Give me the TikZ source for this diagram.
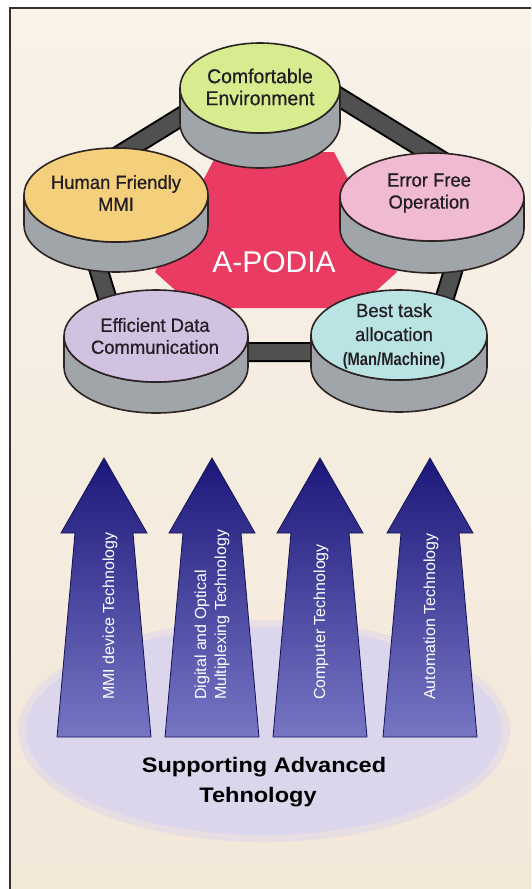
\documentclass[tikz,border=0pt]{standalone}
\usepackage{fontspec}
\setmainfont{Liberation Sans}
\newfontfamily\narrowfont[FakeStretch=0.82]{Liberation Sans}
\newfontfamily\widefont[FakeStretch=1.12]{Liberation Sans}
\newfontfamily\heavyfont[FakeBold=0.7,FakeStretch=0.97]{Liberation Sans}
\usetikzlibrary{calc}
\definecolor{bgtop}{RGB}{248,242,233}
\definecolor{bgbot}{RGB}{243,231,216}
\definecolor{framec}{RGB}{55,50,45}
\definecolor{cylgray}{RGB}{160,165,170}
\definecolor{cyledge}{RGB}{45,35,35}
\definecolor{cgreen}{RGB}{214,236,142}
\definecolor{corange}{RGB}{245,208,124}
\definecolor{cpink}{RGB}{240,186,210}
\definecolor{cpurple}{RGB}{210,194,226}
\definecolor{ccyan}{RGB}{186,228,228}
\definecolor{redc}{RGB}{234,60,98}
\definecolor{barc}{RGB}{80,80,80}
\definecolor{navytop}{RGB}{28,24,122}
\definecolor{navybot}{RGB}{118,118,196}
\definecolor{lav}{RGB}{220,214,237}
\definecolor{txt}{RGB}{35,30,35}
\tikzset{
  cylside/.style={fill=cylgray, draw=cyledge, line width=1.6, line join=round},
  cyltop/.style={draw=cyledge, line width=1.6},
  cyltext/.style={font=\heavyfont\fontsize{19}{22}\selectfont, text=txt, align=center, inner sep=0},
  arrtext/.style={font=\fontsize{16}{20}\selectfont, text=white, rotate=90, anchor=west, align=left, inner sep=0},
  techarrowstyle/.style={top color=navytop, bottom color=navybot, draw=navytop!70!black, line width=0.8},
  barouter/.style={line width=20, black, line join=round},
  barinner/.style={line width=16, barc, line join=round},
}
\newcommand\drawcyl[7]{% cx cy rx ry d color name
  \coordinate (#7) at (#1,#2);
  \draw[cylside] ({#1-#3},#2) -- ({#1-#3},{#2+#5}) arc[start angle=180,end angle=0,x radius=#3,y radius=#4] -- ({#1+#3},#2) arc[start angle=0,end angle=180,x radius=#3,y radius=#4] -- cycle;
  \draw[cyltop, fill=#6] (#1,#2) ellipse [x radius=#3, y radius=#4];
}
\newcommand\techarrow[2]{% center x, name
  \coordinate (#2) at (#1,458);
  \shadedraw[techarrowstyle] (#1,458) -- ({#1+43},533) -- ({#1+29},533) -- ({#1+47},737) -- ({#1-47},737) -- ({#1-29},533) -- ({#1-43},533) -- cycle;
}
\begin{document}
\begin{tikzpicture}[x=1pt,y=-1pt]
\useasboundingbox (0,0) rectangle (531,889);
% background and frame
\fill[white] (0,0) rectangle (531,889);
\shade[top color=bgtop, bottom color=bgbot] (10,8) rectangle (531,889);
\draw[framec, line width=2.5] (10,889) -- (10,8) -- (531,8);

% ring of bars
\coordinate (rT) at (276,58);
\coordinate (rUL) at (72,184);
\coordinate (rLL) at (124,352);
\coordinate (rLR) at (428,352);
\coordinate (rUR) at (480,184);
\draw[barouter] (rT) -- (rUL) -- (rLL) -- (rLR) -- (rUR) -- cycle;
\draw[barinner] (rT) -- (rUL) -- (rLL) -- (rLR) -- (rUR) -- cycle;

% red centre
\fill[redc] (218,152) -- (334,152) -- (397,272) -- (357,308) -- (195,308) -- (155,272) -- cycle;
\node[font=\fontsize{30}{30}\selectfont, text=white, inner sep=0] (apodia) at (274,262) {A-PODIA};

% cylinders
\drawcyl{260}{88}{80}{45}{35}{cgreen}{cgreen0}
\drawcyl{116}{195}{92}{47}{30}{corange}{corange0}
\drawcyl{432}{197}{92}{44}{32}{cpink}{cpink0}
\drawcyl{156}{336}{92}{46}{31}{cpurple}{cpurple0}
\drawcyl{399}{335}{88}{45}{32}{ccyan}{ccyan0}

\node[cyltext, font=\heavyfont\fontsize{20}{22}\selectfont] (tgreen) at (260,87) {Comfortable\\Environment};
\node[cyltext] (torange) at (116,193) {Human Friendly\\MMI};
\node[cyltext] (tpink) at (429,193) {Error Free\\Operation};
\node[cyltext] (tpurple) at (155,336) {Efficient Data\\Communication};
\node[cyltext, font=\heavyfont\fontsize{19}{24}\selectfont] (tcyan) at (394,336) {Best task\\allocation\\{\narrowfont\bfseries\fontsize{18}{24}\selectfont (Man/Machine)}};

% supporting ellipse
\fill[lav, opacity=0.5] (264,731) ellipse [x radius=246, y radius=111];
\fill[lav] (264,731) ellipse [x radius=238, y radius=104];

% arrows
\techarrow{104}{a1}
\techarrow{212}{a2}
\techarrow{320}{a3}
\techarrow{430}{a4}
\node[arrtext] (ta1) at (110,700) {MMI device Technology};
\node[arrtext] (ta2) at (212,700) {Digital and Optical\\Multiplexing Technology};
\node[arrtext] (ta3) at (321,700) {Computer Technology};
\node[arrtext] (ta4) at (431,700) {Automation Technology};

\node[font=\widefont\bfseries\fontsize{21}{30}\selectfont, anchor=base, inner sep=0] (sat1) at (264,772) {Supporting Advanced};
\node[font=\widefont\bfseries\fontsize{21}{30}\selectfont, anchor=base, inner sep=0] (sat2) at (258,802) {Tehnology};
\end{tikzpicture}
\end{document}
